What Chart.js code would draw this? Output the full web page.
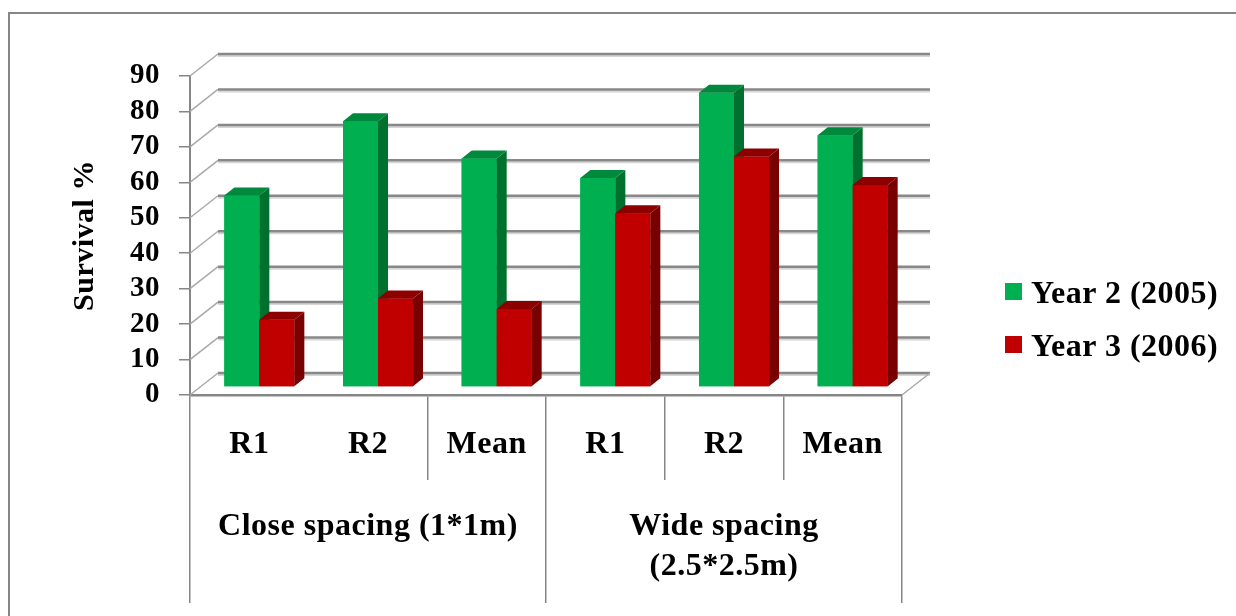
<!DOCTYPE html>
<html>
<head>
<meta charset="utf-8">
<script src="https://cdn.jsdelivr.net/npm/chart.js@4/dist/chart.umd.min.js"></script>
<style>
  html, body { margin: 0; padding: 0; background: #fff; }
  #wrap { position: relative; width: 1236px; height: 616px; overflow: hidden; }
  #frame { position: absolute; left: 8px; top: 12px; right: -10px; bottom: -10px;
           border-top: 2px solid #868686; border-left: 2px solid #868686; pointer-events: none; }
  canvas { position: absolute; left: 0; top: 0; }
  .lg-item { position: absolute; font-family: 'Liberation Serif', 'Times New Roman', serif;
             font-weight: bold; font-size: 32px; line-height: 32px; letter-spacing: 0.5px;
             color: #000; white-space: nowrap; }
  .lg-box { position: absolute; width: 17px; height: 17px; }
</style>
</head>
<body>
<div id="wrap">
  <canvas id="c" width="1236" height="616"></canvas>
  <div id="frame"></div>
  <div id="legend"></div>
</div>
<script>
// Sub-categories (replicates) and the two spacing treatments they belong to
const categories = ['R1', 'R2', 'Mean', 'R1', 'R2', 'Mean'];
const groupLabels = ['Close spacing (1*1m)', ['Wide spacing', '(2.5*2.5m)']];

// Survival % per replicate
const seriesNames = ['Year 2 (2005)', 'Year 3 (2006)'];
const year2Survival = [54, 75, 64.5, 59, 83, 71];
const year3Survival = [19, 25, 22, 49, 65, 57];

// Value axis
const yMin = 0;
const yMax = 90;
const yStep = 10;

const SERIF = "'Liberation Serif', 'Times New Roman', serif";
const GRID = '#868686';

// Oblique projection used for the 3-D look
const DEPTH = { dx: 28, dy: -22 };      // floor depth (front edge -> back wall)
const BAR_SHIFT = { dx: 10, dy: -8 };   // front face of the columns
const BAR_DEPTH = { dx: 10, dy: -8 };   // thickness of each column

const faceShades = [
  { side: '#00702F', top: '#00883D' },
  { side: '#780000', top: '#8C0000' }
];

function seg(ctx, x1, y1, x2, y2) {
  ctx.beginPath(); ctx.moveTo(x1, y1); ctx.lineTo(x2, y2); ctx.stroke();
}

const box3d = {
  id: 'box3d',
  beforeDraw(chart) {
    // slightly open letter spacing for the axis text
    chart.ctx.letterSpacing = '0.5px';
  },
  beforeDatasetsDraw(chart) {
    const { ctx, chartArea: a, scales: { y } } = chart;
    ctx.save();
    y.ticks.forEach(t => {
      const py = y.getPixelForValue(t.value);
      // side wall
      ctx.strokeStyle = '#a9a9a9'; ctx.lineWidth = 1.5;
      seg(ctx, a.left, py, a.left + DEPTH.dx, py + DEPTH.dy);
      // back wall
      ctx.strokeStyle = '#d6d6d6'; ctx.lineWidth = 2;
      seg(ctx, a.left + DEPTH.dx, py + DEPTH.dy + 2, a.right + DEPTH.dx, py + DEPTH.dy + 2);
      ctx.strokeStyle = '#888888'; ctx.lineWidth = 2.5;
      seg(ctx, a.left + DEPTH.dx, py + DEPTH.dy, a.right + DEPTH.dx, py + DEPTH.dy);
    });
    // right edge of the floor
    const y0 = y.getPixelForValue(yMin);
    ctx.strokeStyle = '#a9a9a9'; ctx.lineWidth = 1.5;
    seg(ctx, a.right, y0, a.right + DEPTH.dx, y0 + DEPTH.dy);
    ctx.restore();

    // columns stand a little behind the front edge
    ctx.save();
    ctx.translate(BAR_SHIFT.dx, BAR_SHIFT.dy);
  },
  afterDatasetsDraw(chart) {
    const ctx = chart.ctx;
    const metas = chart.data.datasets.map((d, i) => chart.getDatasetMeta(i));
    const n = chart.data.labels.length;
    for (let j = 0; j < n; j++) {
      metas.forEach((meta, i) => {
        const el = meta.data[j];
        if (!el) return;
        const { x, y, base, width } = el.getProps(['x', 'y', 'base', 'width'], true);
        const l = x - width / 2, r = x + width / 2;
        const ds = chart.data.datasets[i];
        // front
        ctx.fillStyle = ds.backgroundColor;
        ctx.fillRect(l, y, width, base - y);
        // side
        ctx.fillStyle = faceShades[i].side;
        ctx.beginPath();
        ctx.moveTo(r, y);
        ctx.lineTo(r + BAR_DEPTH.dx, y + BAR_DEPTH.dy);
        ctx.lineTo(r + BAR_DEPTH.dx, base + BAR_DEPTH.dy);
        ctx.lineTo(r, base);
        ctx.closePath(); ctx.fill();
        // top
        ctx.fillStyle = faceShades[i].top;
        ctx.beginPath();
        ctx.moveTo(l, y);
        ctx.lineTo(l + BAR_DEPTH.dx, y + BAR_DEPTH.dy);
        ctx.lineTo(r + BAR_DEPTH.dx, y + BAR_DEPTH.dy);
        ctx.lineTo(r, y);
        ctx.closePath(); ctx.fill();
      });
    }
    ctx.restore();
  }
};

const chart = new Chart(document.getElementById('c'), {
  type: 'bar',
  data: {
    labels: categories,
    datasets: [
      { label: seriesNames[0], data: year2Survival, backgroundColor: '#00B050', borderWidth: 0, clip: false },
      { label: seriesNames[1], data: year3Survival, backgroundColor: '#C00000', borderWidth: 0, clip: false }
    ]
  },
  options: {
    responsive: false,
    animation: false,
    events: [],
    layout: { padding: { left: 50, top: 76, right: 334, bottom: 0 } },
    datasets: { bar: { categoryPercentage: 0.59, barPercentage: 1 } },
    plugins: { legend: { display: false }, tooltip: { enabled: false } },
    scales: {
      x: {
        type: 'category',
        position: 'bottom',
        weight: 0,
        offset: true,
        grid: {
          offset: true, drawOnChartArea: false, drawTicks: true, tickLength: 85, lineWidth: 1.5,
          color: ctx => (ctx.index === 1 ? 'rgba(0,0,0,0)' : GRID)
        },
        border: { display: true, color: GRID, width: 2.5 },
        ticks: { autoSkip: false, maxRotation: 0, padding: -54, color: '#000',
                 font: { family: SERIF, weight: 'bold', size: 32 } },
        afterFit: s => { s.height = 85; }
      },
      groups: {
        type: 'category',
        labels: groupLabels,
        position: 'bottom',
        weight: 1,
        offset: true,
        grid: { offset: true, drawOnChartArea: false, drawTicks: true, tickLength: 123, lineWidth: 1.5, color: GRID },
        border: { display: false },
        ticks: { autoSkip: false, maxRotation: 0, padding: -96, color: '#000',
                 font: { family: SERIF, weight: 'bold', size: 32, lineHeight: 40 / 32 } },
        afterFit: s => { s.height = 136; }
      },
      y: {
        min: yMin,
        max: yMax,
        grid: { drawOnChartArea: false, drawTicks: true, tickLength: 11, lineWidth: 1.5, color: GRID },
        border: { display: true, color: GRID, width: 2 },
        ticks: { stepSize: yStep, autoSkip: false, padding: 19, color: '#000',
                 font: { family: SERIF, weight: 'bold', size: 29 } },
        title: { display: true, text: 'Survival %', color: '#000',
                 font: { family: SERIF, weight: 'bold', size: 30 }, padding: { top: 17, bottom: 0 } },
        afterFit: s => { s.width = 140; }
      }
    }
  },
  plugins: [box3d]
});

// Legend built from the chart's own datasets
const legendEl = document.getElementById('legend');
chart.data.datasets.forEach((ds, i) => {
  const rowTop = 276 + i * 53;
  const box = document.createElement('div');
  box.className = 'lg-box';
  box.style.left = '1005px';
  box.style.top = (rowTop + 7) + 'px';
  box.style.background = ds.backgroundColor;
  const txt = document.createElement('div');
  txt.className = 'lg-item';
  txt.style.left = '1031px';
  txt.style.top = rowTop + 'px';
  txt.textContent = ds.label;
  legendEl.appendChild(box);
  legendEl.appendChild(txt);
});
</script>
</body>
</html>
